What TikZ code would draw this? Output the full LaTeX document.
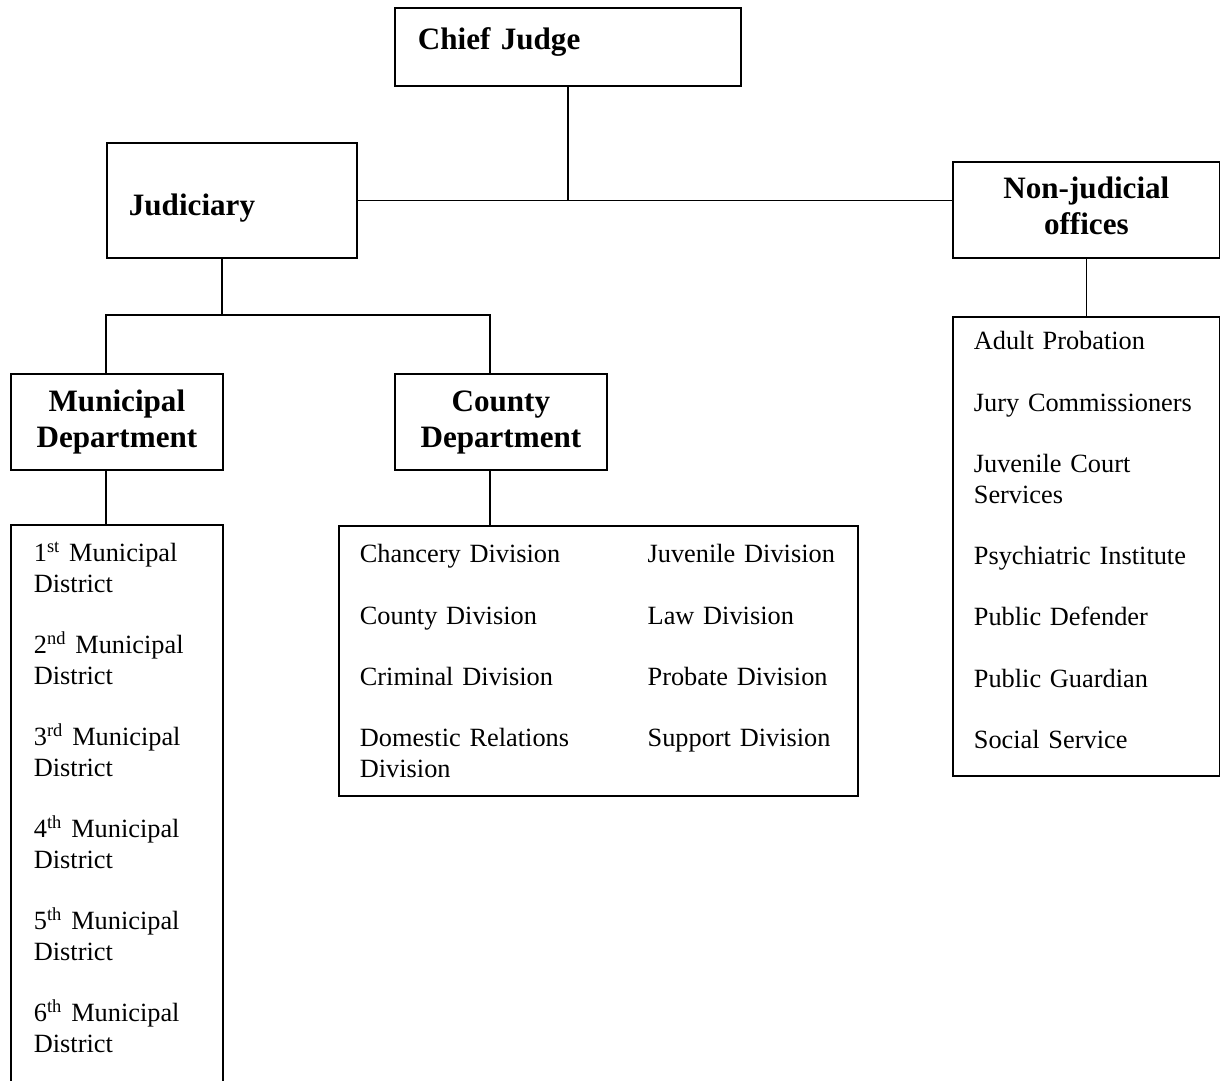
\documentclass[tikz,border=0pt]{standalone}
\usepackage{fontspec}
\setmainfont{Liberation Serif}

\newcommand{\pxu}{0.45pt}
\newcommand{\headfont}{\fontsize{14}{16.2}\selectfont\bfseries}
\newcommand{\listfont}{\fontsize{11.85}{13.8}\selectfont}
\newcommand{\itemgap}{\\[13.8pt]}

\begin{document}
\begin{tikzpicture}[x=\pxu,y=-\pxu,line width=0.8pt,
    box/.style={draw,anchor=north west,inner ysep=0pt},
    head/.style={box,font=\headfont},
    list/.style={box,font=\listfont,align=left}]
  \useasboundingbox (0,0) rectangle (1220,1081);

  \node[head,align=left,inner xsep=23*\pxu,text width=300*\pxu,text height=42*\pxu,text depth=36*\pxu] (chief) at (394,7) {Chief Judge};
  \node[head,align=left,inner xsep=22*\pxu,text width=206*\pxu,text height=73*\pxu,text depth=42*\pxu] (judiciary) at (106,142) {Judiciary};
  \node[head,align=center,inner xsep=10*\pxu,text width=247*\pxu,text height=37*\pxu,text depth=59*\pxu] (nonjud) at (952,161) {Non-judicial\\offices};
  \node[head,align=center,inner xsep=6*\pxu,text width=200*\pxu,text height=38*\pxu,text depth=58*\pxu] (mundept) at (10,373) {Municipal\\Department};
  \node[head,align=center,inner xsep=6*\pxu,text width=200*\pxu,text height=38*\pxu,text depth=58*\pxu] (countydept) at (394,373) {County\\Department};

  \node[list,inner xsep=23*\pxu,text width=166*\pxu,text height=37*\pxu,text depth=580*\pxu] (munlist) at (10,524)
    {1\textsuperscript{st} Municipal\\District\itemgap
     2\textsuperscript{nd} Municipal\\District\itemgap
     3\textsuperscript{rd} Municipal\\District\itemgap
     4\textsuperscript{th} Municipal\\District\itemgap
     5\textsuperscript{th} Municipal\\District\itemgap
     6\textsuperscript{th} Municipal\\District};
  \node[list,inner xsep=21*\pxu,text width=477*\pxu,text height=37*\pxu,text depth=233*\pxu] (countylist) at (338,525)
    {\begin{tabular}[t]{@{}p{129.5pt}@{}l@{}}
       Chancery Division & Juvenile Division\itemgap
       County Division & Law Division\itemgap
       Criminal Division & Probate Division\itemgap
       Domestic Relations\newline Division & Support Division
     \end{tabular}};
  \node[list,inner xsep=21*\pxu,text width=225*\pxu,text height=33*\pxu,text depth=426*\pxu] (nonlist) at (952,316)
    {Adult Probation\itemgap
     Jury Commissioners\itemgap
     Juvenile Court\\Services\itemgap
     Psychiatric Institute\itemgap
     Public Defender\itemgap
     Public Guardian\itemgap
     Social Service};

  \coordinate (jtap) at (222,315);
  \coordinate (mtap) at (106,315);
  \coordinate (ctap) at (490,315);

  \draw (chief) -- (chief.south |- judiciary.east);
  \draw (judiciary.east) -- (nonjud.west |- judiciary.east);
  \draw (nonjud) -- (nonlist);
  \draw (judiciary.south -| jtap) -- (jtap);
  \draw (mundept.north -| mtap) -- (mtap) -- (ctap) -- (countydept.north -| ctap);
  \draw (mundept.south -| mtap) -- (munlist.north -| mtap);
  \draw (countydept.south -| ctap) -- (countylist.north -| ctap);
\end{tikzpicture}
\end{document}
